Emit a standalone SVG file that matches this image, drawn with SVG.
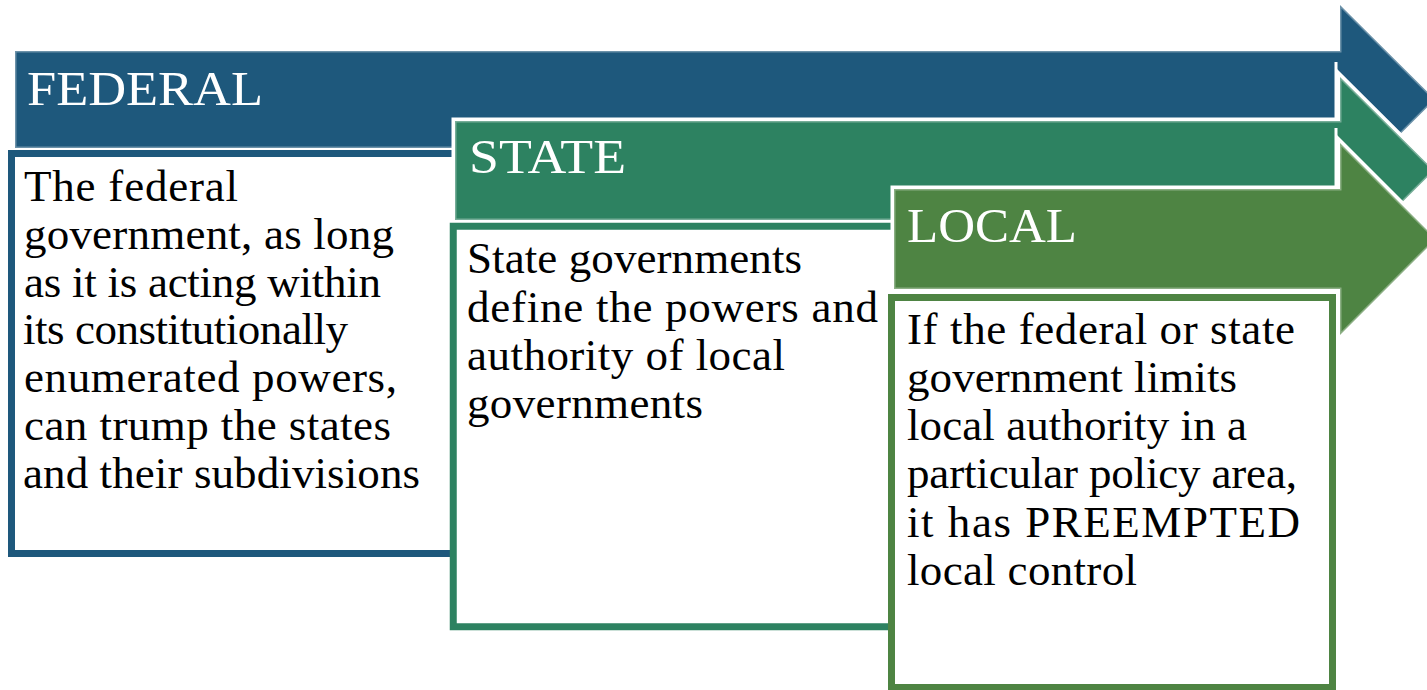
<svg xmlns="http://www.w3.org/2000/svg" width="1427" height="690" viewBox="0 0 1427 690">
  <style>
    .outline { fill: #ffffff; stroke: #ffffff; stroke-width: 7; stroke-linejoin: miter; }
    .shape { stroke: #ffffff; stroke-opacity: 0.35; stroke-width: 3; }
    .seam { stroke: #ffffff; stroke-width: 3; }
    .fed { fill: #1E587C; }
    .sta { fill: #2D8261; }
    .loc { fill: #4E8443; }
    .box { fill: #ffffff; stroke-width: 7; stroke-linejoin: miter; }
    .head { font-family: "Liberation Serif", "DejaVu Serif", serif; font-size: 48px; fill: #ffffff; }
    .body { font-family: "Liberation Serif", "DejaVu Serif", serif; font-size: 45px; fill: #000000; }
  </style>
  <rect width="1427" height="690" fill="#ffffff"/>

  <g id="federal">
    <polygon class="outline" points="15,51 1340,51 1340,5 1435,99.5 1340,194 1340,148 15,148"/>
    <polygon class="shape fed" points="15,51 1340,51 1340,5 1435,99.5 1340,194 1340,148 15,148"/>
    <line class="seam" x1="1336" y1="62" x2="1336" y2="118"/>
    <text class="head" x="27" y="105" textLength="236" lengthAdjust="spacingAndGlyphs">FEDERAL</text>
    <path class="box" d="M 600 153.5 H 11.5 V 553.5 H 600" stroke="#1E587C"/>
    <text class="body" x="24" y="201" textLength="214" lengthAdjust="spacing">The federal</text>
    <text class="body" x="24" y="249" textLength="370" lengthAdjust="spacing">government, as long</text>
    <text class="body" x="24" y="297" textLength="357" lengthAdjust="spacing">as it is acting within</text>
    <text class="body" x="23" y="344" textLength="325" lengthAdjust="spacing">its constitutionally</text>
    <text class="body" x="24" y="392" textLength="373" lengthAdjust="spacing">enumerated powers,</text>
    <text class="body" x="24" y="440" textLength="367" lengthAdjust="spacing">can trump the states</text>
    <text class="body" x="23" y="488" textLength="397" lengthAdjust="spacing">and their subdivisions</text>
  </g>

  <g id="state">
    <polygon class="outline" points="455,121 1340,121 1340,77 1434,170.5 1340,264 1340,220 455,220"/>
    <polygon class="shape sta" points="455,121 1340,121 1340,77 1434,170.5 1340,264 1340,220 455,220"/>
    <line class="seam" x1="1336" y1="128" x2="1336" y2="186"/>
    <text class="head" x="469" y="173" textLength="157" lengthAdjust="spacingAndGlyphs">STATE</text>
    <path class="box" d="M 1000 226.25 H 453.25 V 626.75 H 900" stroke="#2D8261"/>
    <text class="body" x="467" y="273" textLength="335" lengthAdjust="spacing">State governments</text>
    <text class="body" x="467" y="322" textLength="411" lengthAdjust="spacing">define the powers and</text>
    <text class="body" x="467" y="370" textLength="318" lengthAdjust="spacing">authority of local</text>
    <text class="body" x="467" y="418" textLength="236" lengthAdjust="spacing">governments</text>
  </g>

  <g id="local">
    <polygon class="outline" points="894,189 1340,189 1340,143 1436,239 1340,335 1340,289 894,289"/>
    <polygon class="shape loc" points="894,189 1340,189 1340,143 1436,239 1340,335 1340,289 894,289"/>
    <text class="head" x="907" y="242" textLength="170" lengthAdjust="spacingAndGlyphs">LOCAL</text>
    <rect class="box" x="891.5" y="297.5" width="441" height="390" stroke="#4E8443"/>
    <text class="body" x="907" y="344" textLength="388" lengthAdjust="spacing">If the federal or state</text>
    <text class="body" x="907" y="392" textLength="330" lengthAdjust="spacing">government limits</text>
    <text class="body" x="907" y="440" textLength="340" lengthAdjust="spacing">local authority in a</text>
    <text class="body" x="907" y="488" textLength="390" lengthAdjust="spacing">particular policy area,</text>
    <text class="body" x="907" y="537" textLength="393" lengthAdjust="spacing">it has PREEMPTED</text>
    <text class="body" x="907" y="585" textLength="230" lengthAdjust="spacing">local control</text>
  </g>

  <g id="connectors"></g>
</svg>
